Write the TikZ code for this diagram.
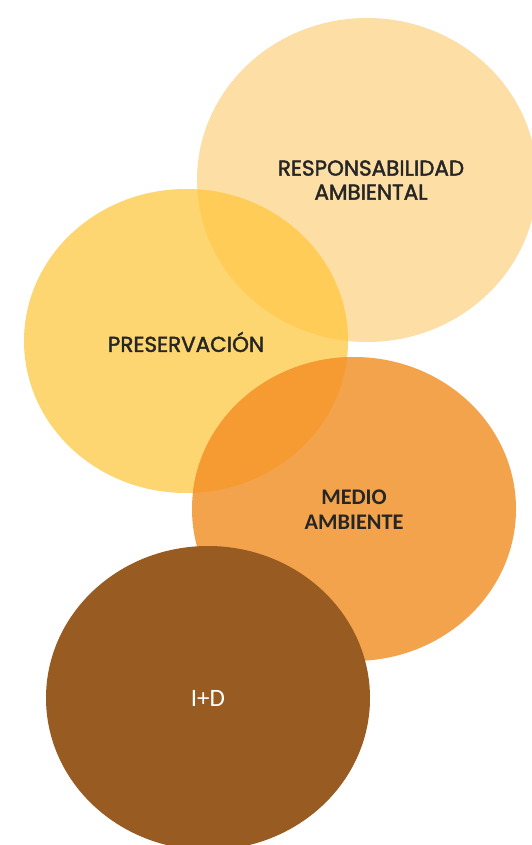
\documentclass[tikz,border=0pt]{standalone}
\usepackage{fontspec}
\newfontfamily\geofnt[FakeBold=2]{Poppins}
\newfontfamily\calfnt{Carlito}
\definecolor{respc}{HTML}{FDDFA6}
\definecolor{presc}{HTML}{FDD671}
\definecolor{rpover}{HTML}{FFCD57}
\definecolor{medc}{HTML}{F3A34B}
\definecolor{pmover}{HTML}{F59B31}
\definecolor{idc}{HTML}{985B22}
\definecolor{txtc}{HTML}{262626}
\tikzset{
  geolabel/.style={font=\geofnt\fontsize{21.5}{24}\selectfont, text=txtc, align=center, inner sep=0pt},
  callabel/.style={font=\calfnt\bfseries\fontsize{22.3}{25}\selectfont, text=txtc, align=center, inner sep=0pt},
}
\begin{document}
\begin{tikzpicture}[x=1pt,y=-1pt]
\fill[white] (0,0) rectangle (531,845);
\useasboundingbox (0,0) rectangle (531,845);
% Responsabilidad ambiental
\fill[respc] (367,180) ellipse [x radius=170pt, y radius=162pt];
% Preservacion
\fill[presc] (186,341) ellipse [x radius=162pt, y radius=152pt];
\begin{scope}
  \clip (367,180) ellipse [x radius=170pt, y radius=162pt];
  \fill[rpover] (186,341) ellipse [x radius=162pt, y radius=152pt];
\end{scope}
% Medio ambiente
\fill[medc] (354,509) ellipse [x radius=162pt, y radius=152pt];
\begin{scope}
  \clip (186,341) ellipse [x radius=162pt, y radius=152pt];
  \fill[pmover] (354,509) ellipse [x radius=162pt, y radius=152pt];
\end{scope}
% I+D
\fill[idc] (208,698) ellipse [x radius=162pt, y radius=152pt];
% labels
\node[geolabel] (resp) at (371,180) {RESPONSABILIDAD\\AMBIENTAL};
\node[geolabel] (pres) at (186,342) {PRESERVACIÓN};
\node[callabel] (med) at (354,510) {MEDIO\\AMBIENTE};
\node[font=\calfnt\fontsize{25}{28}\selectfont, text=white, inner sep=0pt] (id) at (208,698) {I+D};
\end{tikzpicture}
\end{document}
